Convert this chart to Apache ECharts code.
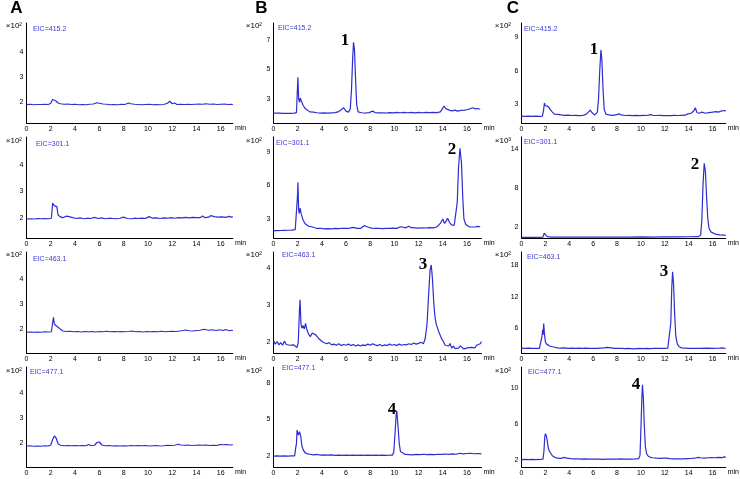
<!DOCTYPE html>
<html><head><meta charset="utf-8">
<script src="https://cdn.jsdelivr.net/npm/echarts@6/dist/echarts.min.js"></script>
<style>html,body{margin:0;padding:0;background:#fff}#c{width:740px;height:479px}</style>
</head><body><div id="c"></div>
<script>
// ---- data: [time (min), intensity] ----
const a415 = [[0,1.9],[0.3,1.91],[0.6,1.89],[0.9,1.9],[1.2,1.9],[1.5,1.91],[1.8,1.9],[2.0,1.95],[2.15,2.1],[2.25,2.15],[2.4,2.05],[2.6,1.96],[2.8,1.93],[3.1,1.91],[3.4,1.92],[3.7,1.9],[4.0,1.91],[4.3,1.89],[4.6,1.9],[4.9,1.89],[5.2,1.91],[5.5,1.92],[5.8,1.97],[6.0,1.95],[6.3,1.92],[6.6,1.91],[6.9,1.89],[7.2,1.9],[7.5,1.89],[7.8,1.91],[8.1,1.9],[8.4,1.96],[8.6,1.93],[8.9,1.91],[9.2,1.9],[9.5,1.89],[9.8,1.9],[10.1,1.91],[10.4,1.89],[10.7,1.9],[11.0,1.89],[11.3,1.9],[11.6,1.95],[11.8,2.03],[12.0,1.93],[12.2,1.96],[12.4,1.9],[12.7,1.91],[13.0,1.9],[13.3,1.91],[13.6,1.9],[13.9,1.91],[14.2,1.92],[14.5,1.91],[14.8,1.93],[15.1,1.91],[15.4,1.92],[15.7,1.9],[16.0,1.91],[16.3,1.92],[16.6,1.9],[16.9,1.91],[17.0,1.9]];
const a301 = [[0,1.95],[0.3,1.96],[0.6,1.95],[0.9,1.97],[1.2,1.96],[1.5,1.97],[1.8,1.96],[2.05,1.98],[2.15,2.55],[2.2,2.62],[2.3,2.45],[2.4,2.48],[2.5,2.42],[2.6,2.1],[2.8,2.03],[3.0,2.0],[3.3,2.06],[3.5,2.04],[3.8,2.0],[4.1,1.97],[4.4,1.99],[4.7,1.96],[5.0,1.98],[5.3,1.97],[5.6,2.01],[5.9,1.97],[6.2,1.99],[6.5,1.96],[6.8,1.98],[7.1,1.97],[7.4,1.96],[7.7,1.98],[8.0,2.02],[8.3,1.97],[8.6,1.96],[8.9,1.98],[9.2,1.97],[9.5,1.98],[9.8,1.97],[10.1,2.04],[10.4,1.98],[10.7,1.99],[11.0,1.97],[11.3,1.99],[11.6,1.98],[11.9,2.0],[12.2,1.98],[12.5,2.0],[12.8,1.99],[13.1,2.01],[13.4,1.99],[13.7,2.01],[14.0,2.0],[14.3,2.0],[14.5,2.06],[14.7,2.0],[15.0,2.02],[15.2,2.08],[15.3,2.13],[15.45,2.04],[15.6,2.07],[15.8,2.02],[16.1,2.03],[16.4,2.01],[16.7,2.05],[16.9,2.02],[17.0,2.03]];
const a463 = [[0,1.88],[0.3,1.89],[0.6,1.88],[0.9,1.89],[1.2,1.88],[1.5,1.9],[1.8,1.89],[2.05,1.9],[2.15,2.25],[2.22,2.48],[2.3,2.2],[2.45,2.12],[2.6,2.08],[2.8,2.0],[3.0,1.93],[3.3,1.91],[3.6,1.92],[3.9,1.9],[4.2,1.91],[4.5,1.89],[4.8,1.91],[5.1,1.9],[5.4,1.91],[5.7,1.89],[6.0,1.91],[6.3,1.9],[6.6,1.92],[6.9,1.9],[7.2,1.91],[7.5,1.9],[7.8,1.91],[8.1,1.9],[8.4,1.91],[8.7,1.93],[9.0,1.9],[9.3,1.91],[9.6,1.89],[9.9,1.91],[10.2,1.9],[10.5,1.91],[10.8,1.9],[11.1,1.92],[11.4,1.9],[11.7,1.91],[12.0,1.92],[12.3,1.91],[12.6,1.93],[12.9,1.95],[13.1,1.97],[13.4,1.94],[13.7,1.93],[14.0,1.95],[14.3,1.96],[14.6,2.0],[14.8,1.98],[15.0,1.96],[15.3,1.98],[15.6,1.95],[15.9,1.98],[16.2,1.95],[16.4,1.99],[16.7,1.94],[16.9,1.96],[17.0,1.95]];
const a477 = [[0,1.89],[0.3,1.9],[0.6,1.88],[0.9,1.89],[1.2,1.88],[1.5,1.9],[1.8,1.89],[2.0,1.93],[2.15,2.15],[2.3,2.29],[2.45,2.2],[2.6,1.98],[2.8,1.92],[3.1,1.9],[3.4,1.91],[3.7,1.9],[4.0,1.91],[4.3,1.9],[4.6,1.91],[4.9,1.9],[5.1,1.95],[5.3,1.91],[5.6,1.92],[5.8,2.03],[5.9,1.99],[6.0,2.05],[6.2,1.93],[6.5,1.9],[6.8,1.91],[7.1,1.89],[7.4,1.9],[7.7,1.89],[8.0,1.9],[8.3,1.89],[8.6,1.91],[8.9,1.9],[9.2,1.91],[9.5,1.9],[9.8,1.91],[10.1,1.89],[10.4,1.9],[10.7,1.91],[11.0,1.89],[11.3,1.9],[11.6,1.92],[11.9,1.91],[12.2,1.92],[12.5,1.96],[12.7,1.93],[13.0,1.92],[13.3,1.93],[13.6,1.91],[13.9,1.92],[14.2,1.93],[14.5,1.92],[14.8,1.93],[15.1,1.91],[15.4,1.92],[15.7,1.91],[15.9,1.95],[16.2,1.94],[16.5,1.95],[16.8,1.93],[17.0,1.94]];

const b415 = [[0,2.0],[0.2,2.02],[0.35,2.06],[0.5,2.01],[0.8,2.0],[1.1,1.99],[1.4,2.0],[1.7,2.01],[1.9,2.05],[1.97,3.5],[2.02,4.46],[2.08,3.0],[2.15,2.75],[2.22,3.03],[2.3,2.85],[2.45,2.55],[2.6,2.35],[2.75,2.22],[3.0,2.1],[3.3,2.08],[3.6,2.04],[3.9,2.02],[4.2,2.03],[4.5,2.01],[4.8,2.03],[5.1,2.05],[5.4,2.12],[5.6,2.25],[5.8,2.38],[6.0,2.15],[6.2,2.08],[6.35,2.3],[6.45,3.6],[6.55,5.8],[6.62,6.85],[6.7,6.3],[6.78,4.5],[6.88,2.6],[7.0,2.1],[7.3,2.04],[7.6,2.02],[7.9,2.05],[8.2,2.15],[8.4,2.05],[8.7,2.03],[9.0,2.04],[9.3,2.02],[9.6,2.05],[9.9,2.03],[10.2,2.06],[10.5,2.04],[10.8,2.07],[11.1,2.04],[11.4,2.06],[11.7,2.03],[12.0,2.06],[12.3,2.04],[12.6,2.06],[12.9,2.05],[13.2,2.07],[13.5,2.05],[13.8,2.1],[14.0,2.35],[14.1,2.5],[14.25,2.32],[14.4,2.3],[14.6,2.2],[14.8,2.17],[15.0,2.22],[15.2,2.15],[15.5,2.2],[15.8,2.22],[16.1,2.26],[16.3,2.33],[16.5,2.38],[16.7,2.3],[16.9,2.33],[17.1,2.28]];
const b301 = [[0,1.95],[0.3,1.96],[0.6,1.97],[0.9,1.98],[1.2,1.99],[1.5,2.0],[1.8,2.05],[1.92,2.2],[1.98,5.0],[2.02,6.27],[2.08,3.8],[2.13,3.5],[2.2,3.96],[2.3,3.4],[2.45,2.9],[2.6,2.6],[2.75,2.45],[2.9,2.35],[3.0,2.46],[3.15,2.3],[3.3,2.2],[3.6,2.15],[3.9,2.17],[4.2,2.12],[4.5,2.14],[4.8,2.12],[5.1,2.15],[5.4,2.13],[5.7,2.17],[6.0,2.15],[6.3,2.18],[6.6,2.25],[6.9,2.16],[7.2,2.15],[7.5,2.4],[7.6,2.46],[7.8,2.28],[8.1,2.18],[8.4,2.15],[8.7,2.17],[9.0,2.14],[9.3,2.16],[9.6,2.15],[9.9,2.18],[10.2,2.16],[10.5,2.3],[10.7,2.28],[10.9,2.2],[11.2,2.35],[11.4,2.22],[11.7,2.2],[12.0,2.18],[12.3,2.21],[12.6,2.19],[12.9,2.22],[13.2,2.2],[13.5,2.28],[13.8,2.6],[14.0,3.0],[14.15,2.6],[14.3,2.85],[14.4,3.05],[14.55,2.7],[14.75,2.45],[14.95,2.45],[15.1,2.6],[15.2,4.5],[15.3,7.5],[15.42,9.3],[15.55,8.0],[15.65,5.0],[15.75,3.0],[15.9,2.5],[16.0,2.38],[16.2,2.3],[16.4,2.28],[16.55,2.36],[16.7,2.3],[16.9,2.33],[17.1,2.3]];
const b463 = [[0,2.05],[0.15,1.95],[0.3,2.02],[0.45,1.93],[0.6,1.99],[0.75,1.92],[0.9,2.03],[1.05,1.94],[1.2,1.98],[1.35,1.92],[1.5,1.97],[1.65,1.93],[1.8,1.96],[1.95,1.86],[2.05,2.0],[2.15,2.9],[2.2,3.15],[2.27,2.5],[2.35,2.38],[2.45,2.45],[2.55,2.36],[2.65,2.51],[2.75,2.35],[2.9,2.22],[3.05,2.15],[3.2,2.25],[3.35,2.29],[3.5,2.2],[3.65,2.18],[3.8,2.08],[3.95,2.1],[4.1,2.0],[4.25,2.03],[4.4,1.96],[4.6,1.99],[4.8,1.93],[5.0,1.95],[5.2,1.92],[5.4,1.96],[5.6,1.91],[5.8,1.94],[6.0,1.92],[6.2,1.95],[6.4,1.91],[6.6,1.94],[6.8,1.9],[7.0,1.93],[7.2,1.9],[7.4,1.93],[7.6,1.91],[7.8,1.95],[8.0,1.92],[8.2,1.96],[8.4,1.93],[8.6,1.91],[8.8,1.94],[9.0,1.9],[9.2,1.93],[9.4,1.91],[9.6,1.95],[9.8,1.92],[10.0,1.94],[10.2,1.91],[10.4,1.95],[10.6,1.92],[10.8,1.94],[11.0,1.93],[11.2,1.96],[11.4,1.94],[11.6,1.98],[11.8,1.95],[12.0,1.97],[12.2,2.0],[12.4,1.96],[12.55,2.1],[12.7,2.5],[12.85,3.4],[12.95,3.95],[13.05,4.09],[13.15,3.7],[13.25,3.1],[13.35,2.7],[13.45,2.5],[13.55,2.45],[13.65,2.3],[13.75,2.25],[13.9,2.1],[14.05,2.02],[14.2,1.92],[14.35,1.96],[14.5,1.9],[14.6,1.97],[14.75,1.84],[14.9,1.9],[15.0,1.83],[15.15,1.88],[15.3,1.84],[15.45,1.9],[15.6,1.85],[15.75,1.82],[15.9,1.87],[16.05,1.85],[16.2,1.9],[16.35,1.86],[16.5,1.89],[16.65,1.85],[16.8,1.92],[16.95,1.87],[17.1,1.96],[17.2,2.02]];
const b477 = [[0,1.97],[0.3,1.98],[0.6,1.97],[0.9,1.99],[1.2,1.97],[1.5,1.98],[1.75,1.98],[1.85,2.74],[1.9,3.0],[1.95,4.1],[2.05,3.7],[2.15,3.97],[2.25,3.6],[2.35,2.8],[2.45,2.5],[2.6,2.25],[2.8,2.15],[3.0,2.12],[3.3,2.06],[3.6,2.1],[3.9,2.05],[4.2,2.07],[4.5,2.04],[4.8,2.06],[5.1,2.03],[5.4,2.05],[5.7,2.02],[6.0,2.04],[6.3,2.02],[6.6,2.04],[6.9,2.03],[7.2,2.05],[7.5,2.03],[7.8,2.04],[8.1,2.02],[8.4,2.04],[8.7,2.03],[9.0,2.05],[9.3,2.03],[9.6,2.04],[9.85,2.05],[9.95,2.3],[10.05,3.8],[10.15,5.4],[10.2,5.7],[10.3,4.4],[10.4,3.0],[10.5,2.35],[10.65,2.2],[10.9,2.1],[11.2,2.08],[11.5,2.06],[11.8,2.1],[12.1,2.08],[12.4,2.12],[12.7,2.09],[13.0,2.11],[13.3,2.08],[13.6,2.12],[13.9,2.1],[14.2,2.14],[14.5,2.11],[14.8,2.15],[15.1,2.12],[15.4,2.2],[15.7,2.15],[16.0,2.18],[16.3,2.2],[16.6,2.16],[16.9,2.18],[17.2,2.15]];

const c415 = [[0,1.95],[0.3,1.93],[0.6,1.94],[0.9,1.93],[1.2,1.94],[1.5,1.93],[1.75,1.95],[1.85,2.5],[1.92,3.12],[1.98,2.9],[2.05,3.05],[2.12,2.95],[2.25,2.8],[2.4,2.55],[2.55,2.35],[2.75,2.12],[3.0,2.1],[3.3,2.05],[3.6,2.02],[3.9,2.03],[4.2,2.0],[4.5,2.01],[4.8,1.99],[5.1,2.0],[5.4,2.1],[5.6,2.3],[5.75,2.49],[5.95,2.2],[6.15,2.05],[6.35,2.3],[6.45,3.5],[6.55,6.0],[6.65,7.86],[6.73,7.0],[6.82,4.5],[6.92,2.6],[7.05,2.15],[7.3,2.05],[7.6,2.02],[7.9,2.05],[8.15,2.15],[8.35,2.05],[8.7,2.0],[9.0,2.02],[9.3,1.99],[9.6,2.01],[9.9,1.99],[10.2,2.02],[10.5,2.0],[10.8,2.08],[11.0,2.02],[11.3,2.0],[11.6,2.01],[11.9,1.99],[12.2,2.0],[12.5,1.99],[12.8,2.01],[13.1,2.0],[13.4,2.02],[13.7,2.03],[13.95,2.15],[14.2,2.2],[14.45,2.45],[14.55,2.7],[14.7,2.25],[14.9,2.2],[15.1,2.3],[15.4,2.2],[15.7,2.26],[16.0,2.3],[16.3,2.35],[16.5,2.3],[16.7,2.4],[16.85,2.5],[17.0,2.45],[17.1,2.38]];
const c301 = [[0,0.35],[0.5,0.36],[1.0,0.35],[1.5,0.36],[1.8,0.38],[1.9,1.0],[1.95,1.3],[2.02,0.7],[2.15,0.45],[2.5,0.4],[3.0,0.38],[4.0,0.38],[5.0,0.39],[6.0,0.38],[7.0,0.4],[8.0,0.39],[9.0,0.4],[10.0,0.41],[11.0,0.4],[12.0,0.42],[13.0,0.43],[14.0,0.44],[14.8,0.46],[15.0,0.7],[15.1,3.0],[15.2,8.5],[15.3,11.8],[15.4,10.5],[15.5,6.5],[15.6,3.2],[15.7,1.8],[15.85,1.2],[16.0,0.95],[16.3,0.8],[16.6,0.72],[17.0,0.68],[17.1,0.66]];
const c463 = [[0,2.25],[0.3,2.2],[0.6,2.23],[0.9,2.2],[1.2,2.22],[1.5,2.2],[1.65,2.3],[1.72,4.5],[1.77,5.7],[1.81,4.8],[1.86,6.9],[1.92,5.0],[2.0,3.4],[2.1,3.0],[2.25,2.85],[2.4,2.6],[2.7,2.45],[3.0,2.3],[3.3,2.25],[3.6,2.3],[3.9,2.2],[4.2,2.25],[4.5,2.2],[4.8,2.23],[5.1,2.2],[5.4,2.25],[5.7,2.2],[6.0,2.22],[6.3,2.2],[6.6,2.25],[6.9,2.3],[7.2,2.4],[7.5,2.3],[7.8,2.2],[8.1,2.18],[8.4,2.2],[8.7,2.15],[9.0,2.18],[9.3,2.1],[9.6,2.15],[9.9,2.2],[10.2,2.15],[10.5,2.2],[10.8,2.15],[11.1,2.2],[11.4,2.18],[11.7,2.22],[12.0,2.2],[12.25,2.25],[12.4,2.6],[12.5,7.0],[12.58,13.5],[12.65,16.7],[12.73,14.5],[12.82,9.0],[12.92,4.5],[13.05,3.0],[13.2,2.5],[13.4,2.3],[13.7,2.25],[14.0,2.2],[14.5,2.22],[15.0,2.2],[15.5,2.25],[16.0,2.2],[16.5,2.22],[16.8,2.3],[17.0,2.22],[17.1,2.2]];
const c477 = [[0,2.05],[0.3,2.06],[0.6,2.05],[0.9,2.07],[1.2,2.05],[1.5,2.06],[1.8,2.1],[1.88,3.0],[1.95,4.6],[2.0,4.94],[2.08,4.7],[2.15,4.2],[2.25,3.3],[2.35,2.95],[2.45,2.9],[2.6,2.45],[2.8,2.3],[3.0,2.2],[3.3,2.18],[3.6,2.3],[3.8,2.2],[4.1,2.15],[4.4,2.13],[4.7,2.12],[5.0,2.1],[5.3,2.12],[5.6,2.1],[5.9,2.11],[6.2,2.09],[6.5,2.1],[6.8,2.08],[7.1,2.1],[7.4,2.09],[7.7,2.11],[8.0,2.1],[8.3,2.12],[8.6,2.1],[8.9,2.11],[9.2,2.1],[9.5,2.12],[9.8,2.15],[9.92,2.5],[10.0,5.5],[10.08,9.0],[10.13,10.4],[10.2,9.0],[10.28,6.0],[10.37,3.5],[10.48,2.7],[10.6,2.45],[10.8,2.3],[11.0,2.25],[11.3,2.2],[11.6,2.18],[11.9,2.2],[12.0,2.35],[12.1,2.2],[12.4,2.15],[12.7,2.13],[13.0,2.12],[13.3,2.14],[13.6,2.12],[13.9,2.15],[14.2,2.17],[14.5,2.2],[14.8,2.3],[15.0,2.25],[15.3,2.22],[15.6,2.25],[15.9,2.28],[16.2,2.25],[16.5,2.3],[16.8,2.27],[17.0,2.35],[17.1,2.3]];

// ---- labels / ticks ----
const panelLetters = ['A', 'B', 'C'];
const eicLabels = ['EIC=415.2', 'EIC=301.1', 'EIC=463.1', 'EIC=477.1'];
const xTicks = [0, 2, 4, 6, 8, 10, 12, 14, 16];
const yTicksA = [[2,3,4], [2,3,4], [2,3,4], [2,3,4]];
const yTicksB = [[3,5,7], [3,6,9], [2,3,4], [2,5,8]];
const yTicksC = [[3,6,9], [2,8,14], [6,12,18], [2,6,10]];
const yRangeA = [[1.16,5.16], [1.23,5.06], [1.05,5.09], [1.05,5.05]];
const yRangeB = [[1.34,8.16], [1.3,10.3], [1.71,4.44], [1.07,9.29]];
const yRangeC = [[1.33,10.28], [0.25,15.85], [1.32,20.46], [1.22,12.38]];
const scaleLabelsC = ['×10²', '×10³', '×10²', '×10²'];
const peakNumbers = ['1', '2', '3', '4'];

// ---- layout (pixels) ----
const colLeft = [26.5, 273.5, 521.5];
const colXMax = [17.0, 17.2, 17.1];
const colPpm = [12.14, 12.09, 12.05];
const rowTop = [23, 137, 252, 367];
const rowH = [100, 101, 101, 100];
const lineColor = '#2d2dd2';
const eicColor = '#3a3ad4';
const font = 'Arial, "Liberation Sans", sans-serif';

const seriesData = [[a415,a301,a463,a477],[b415,b301,b463,b477],[c415,c301,c463,c477]];
const yTicks = [yTicksA, yTicksB, yTicksC];
const yRange = [yRangeA, yRangeB, yRangeC];

const grids = [], xAxes = [], yAxes = [], series = [];
let idx = 0;
for (let c = 0; c < 3; c++) {
  for (let r = 0; r < 4; r++) {
    grids.push({left: colLeft[c], top: rowTop[r], width: colXMax[c] * colPpm[c], height: rowH[r]});
    xAxes.push({
      type: 'value', gridIndex: idx, min: 0, max: colXMax[c],
      axisLine: {show: true, onZero: false, lineStyle: {color: '#000', width: 1}},
      axisTick: {show: false}, splitLine: {show: false},
      axisLabel: {customValues: xTicks, fontSize: 7, margin: 3, color: '#000', fontFamily: font},
      name: 'min', nameLocation: 'end', nameGap: 2,
      nameTextStyle: {fontSize: 7, color: '#000', fontFamily: font, verticalAlign: 'top', padding: [2, 0, 0, 0]}
    });
    yAxes.push({
      type: 'value', gridIndex: idx, min: yRange[c][r][0], max: yRange[c][r][1],
      axisLine: {show: true, lineStyle: {color: '#000', width: 1}},
      axisTick: {show: false}, splitLine: {show: false},
      axisLabel: {customValues: yTicks[c][r], fontSize: 7, margin: 3, color: '#000', fontFamily: font}
    });
    series.push({
      type: 'line', xAxisIndex: idx, yAxisIndex: idx, data: seriesData[c][r],
      showSymbol: false, symbol: 'none', silent: true,
      lineStyle: {color: lineColor, width: 1.2}
    });
    idx++;
  }
}

// annotation text positions
const letterPos = [[16.5, 8], [261.5, 8], [513, 8]];
const scaleRight = [22, 262, 511];
const scaleY = [26, 141, 255, 371];
const eicPos = [
  [[33,29],[36,144],[33,259],[30,372]],
  [[278,28],[276,143],[282,255],[282,368]],
  [[524,29],[524,142],[527,257],[528,372]]
];
const peakPosB = [[345,41],[452,150],[423,265],[392,410]];
const peakPosC = [[594,50],[695,165],[664,272],[636,385]];

const graphics = [];
for (let c = 0; c < 3; c++) {
  graphics.push({type: 'text', x: letterPos[c][0], y: letterPos[c][1],
    style: {text: panelLetters[c], font: 'bold 17px ' + font, fill: '#000', align: 'center', verticalAlign: 'middle'}});
  for (let r = 0; r < 4; r++) {
    const sl = c === 2 ? scaleLabelsC[r] : '×10²';
    graphics.push({type: 'text', x: scaleRight[c], y: scaleY[r],
      style: {text: sl, font: '8px ' + font, fill: '#000', align: 'right', verticalAlign: 'middle'}});
    graphics.push({type: 'text', x: eicPos[c][r][0], y: eicPos[c][r][1],
      style: {text: eicLabels[r], font: '7px ' + font, fill: eicColor, align: 'left', verticalAlign: 'middle'}});
  }
}
for (let r = 0; r < 4; r++) {
  graphics.push({type: 'text', x: peakPosB[r][0], y: peakPosB[r][1],
    style: {text: peakNumbers[r], font: 'bold 17px "Liberation Serif", "Times New Roman", serif', fill: '#000', align: 'center', verticalAlign: 'middle'}});
  graphics.push({type: 'text', x: peakPosC[r][0], y: peakPosC[r][1],
    style: {text: peakNumbers[r], font: 'bold 17px "Liberation Serif", "Times New Roman", serif', fill: '#000', align: 'center', verticalAlign: 'middle'}});
}

const chart = echarts.init(document.getElementById('c'), null, {renderer: 'canvas'});
chart.setOption({
  animation: false,
  backgroundColor: '#fff',
  grid: grids, xAxis: xAxes, yAxis: yAxes, series: series,
  graphic: graphics
});
</script>
</body></html>
